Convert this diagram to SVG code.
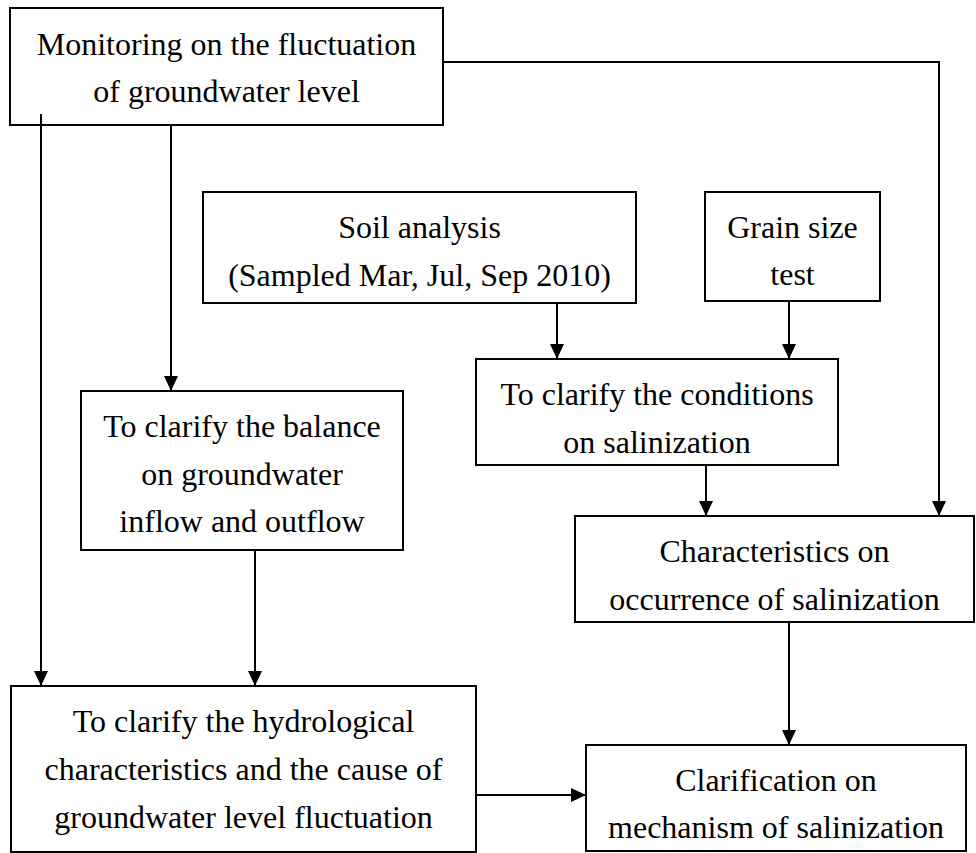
<svg xmlns="http://www.w3.org/2000/svg" width="976" height="853" viewBox="0 0 976 853">
<defs>
<marker id="ah" markerUnits="userSpaceOnUse" markerWidth="15" markerHeight="14" refX="15" refY="7" orient="auto">
<path d="M0,0 L15,7 L0,14 z" fill="#000"/>
</marker>
<style>
.box{fill:#fff;stroke:#000;stroke-width:2}
.t{font-family:"Liberation Serif","Times New Roman",serif;font-size:32px;fill:#000;text-anchor:middle}
.c{fill:none;stroke:#000;stroke-width:2}
.a{marker-end:url(#ah)}
</style>
</defs>
<rect width="976" height="853" fill="#fff"/>
<g id="monitoring">
<rect class="box" x="10" y="8" width="433" height="117"/>
<text class="t" x="226.5" y="55">Monitoring on the fluctuation</text>
<text class="t" x="226.5" y="102">of groundwater level</text>
</g>
<g id="soil">
<rect class="box" x="203" y="192" width="433" height="111"/>
<text class="t" x="419.5" y="238">Soil analysis</text>
<text class="t" x="419.5" y="286">(Sampled Mar, Jul, Sep 2010)</text>
</g>
<g id="grain">
<rect class="box" x="705" y="192" width="175" height="109"/>
<text class="t" x="792.5" y="238">Grain size</text>
<text class="t" x="792.5" y="285">test</text>
</g>
<g id="balance">
<rect class="box" x="81" y="391" width="322" height="159"/>
<text class="t" x="242" y="437">To clarify the balance</text>
<text class="t" x="242" y="485">on groundwater</text>
<text class="t" x="242" y="532">inflow and outflow</text>
</g>
<g id="conditions">
<rect class="box" x="476" y="359" width="362" height="106"/>
<text class="t" x="657" y="405">To clarify the conditions</text>
<text class="t" x="657" y="453">on salinization</text>
</g>
<g id="characteristics">
<rect class="box" x="575" y="516" width="399" height="106"/>
<text class="t" x="774.5" y="562">Characteristics on</text>
<text class="t" x="774.5" y="610">occurrence of salinization</text>
</g>
<g id="hydrological">
<rect class="box" x="11" y="686" width="465" height="166"/>
<text class="t" x="243.5" y="732">To clarify the hydrological</text>
<text class="t" x="243.5" y="780">characteristics and the cause of</text>
<text class="t" x="243.5" y="828">groundwater level fluctuation</text>
</g>
<g id="clarification">
<rect class="box" x="586" y="745" width="380" height="106"/>
<text class="t" x="776" y="791">Clarification on</text>
<text class="t" x="776" y="838">mechanism of salinization</text>
</g>
<g id="connectors">
<path class="c a" d="M41,114 V686"/>
<path class="c a" d="M171,125 V391"/>
<path class="c a" d="M443,62 H939 V516"/>
<path class="c a" d="M557,303 V359"/>
<path class="c a" d="M789,301 V359"/>
<path class="c a" d="M706,465 V516"/>
<path class="c a" d="M255,550 V686"/>
<path class="c a" d="M789,622 V745"/>
<path class="c a" d="M476,795 H586"/>
</g>
</svg>
